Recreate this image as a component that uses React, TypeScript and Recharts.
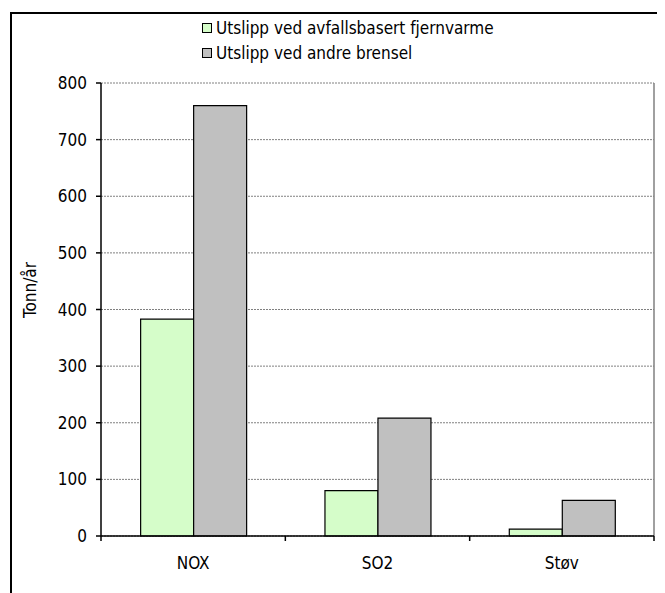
import { BarChart, Bar, XAxis, YAxis, CartesianGrid } from 'recharts'

const categories = ['NOX', 'SO2', 'Støv']
const avfallValues = [383, 80, 12]
const andreValues = [760, 208, 63]
const seriesNames = ['Utslipp ved avfallsbasert fjernvarme', 'Utslipp ved andre brensel']
const seriesColors = ['#d5fdc9', '#c0c0c0']
const yTicks = [0, 100, 200, 300, 400, 500, 600, 700, 800]
const yLabel = 'Tonn/år'

const FONT = '"DejaVu Sans Condensed", "DejaVu Sans", sans-serif'
const FS = 17
const CHART_W = 653
const CHART_H = 579
const MARGIN = { top: 69, right: 11, bottom: 0, left: 0 }
const Y_WIDTH = 89
const PLOT_RIGHT = CHART_W - MARGIN.right
const BAND = (PLOT_RIGHT - MARGIN.left - Y_WIDTH) / categories.length

const data = categories.map((name, i) => ({
  name,
  avfall: avfallValues[i],
  andre: andreValues[i],
}))

function CategoryTick(props: any) {
  const { x, y, payload, index } = props
  const left = x - BAND / 2
  const right = x + BAND / 2
  return (
    <g>
      <line x1={left} y1={y} x2={left} y2={y + 5} stroke="#000" strokeWidth={1.5} />
      {index === categories.length - 1 && (
        <line x1={right} y1={y} x2={right} y2={y + 5} stroke="#000" strokeWidth={1.5} />
      )}
      <text x={x} y={y + 28} textAnchor="middle" dominantBaseline="middle" fontSize={FS} fontFamily={FONT} fill="#000">
        {payload.value}
      </text>
    </g>
  )
}

function YLabel(props: any) {
  const { viewBox } = props
  const cx = viewBox.x + 19
  const cy = 276
  return (
    <text x={cx} y={cy} transform={`rotate(-90 ${cx} ${cy})`} textAnchor="middle" dominantBaseline="middle" fontSize={FS} fontFamily={FONT} fill="#000">
      {yLabel}
    </text>
  )
}

export default function App() {
  return (
    <div style={{ padding: '4px 0 0 2px' }}>
      <div
        style={{
          position: 'relative',
          width: 655,
          height: 581,
          boxSizing: 'border-box',
          borderTop: '2px solid #000',
          borderLeft: '2px solid #000',
          fontFamily: FONT,
        }}
      >
        {/* legend */}
        <div style={{ position: 'absolute', left: 190, top: 1 }}>
          {seriesNames.map((name, i) => (
            <div key={name} style={{ display: 'flex', alignItems: 'center', height: 25, fontSize: FS }}>
              <span
                style={{
                  display: 'inline-block',
                  width: 8,
                  height: 8,
                  border: '1px solid #000',
                  background: seriesColors[i],
                  marginRight: 4,
                }}
              />
              <span>{name}</span>
            </div>
          ))}
        </div>
        <div style={{ position: 'absolute', left: 0, top: 0 }}>
          <BarChart width={CHART_W} height={CHART_H} data={data} margin={MARGIN} barCategoryGap="21.5%" barGap={0}>
            <CartesianGrid yAxisId="left" vertical={false} stroke="#808080" strokeDasharray="2 1" />
            <CartesianGrid yAxisId="left" horizontal={false} verticalPoints={[PLOT_RIGHT]} stroke="#808080" strokeWidth={1.5} />
            <XAxis
              dataKey="name"
              height={57}
              tickLine={false}
              tickSize={0}
              tickMargin={0}
              axisLine={{ stroke: '#000', strokeWidth: 1.5 }}
              tick={<CategoryTick />}
              interval={0}
            />
            <YAxis
              yAxisId="left"
              width={Y_WIDTH}
              domain={[0, 800]}
              ticks={yTicks}
              interval={0}
              tickSize={5}
              tickMargin={9}
              axisLine={{ stroke: '#000', strokeWidth: 1.5 }}
              tickLine={{ stroke: '#000', strokeWidth: 1.5 }}
              tick={{ fill: '#000', fontSize: FS, fontFamily: FONT }}
              label={<YLabel />}
            />
            <Bar yAxisId="left" dataKey="avfall" name={seriesNames[0]} fill={seriesColors[0]} stroke="#000" strokeWidth={1.2} isAnimationActive={false} />
            <Bar yAxisId="left" dataKey="andre" name={seriesNames[1]} fill={seriesColors[1]} stroke="#000" strokeWidth={1.2} isAnimationActive={false} />
          </BarChart>
        </div>
      </div>
    </div>
  )
}
